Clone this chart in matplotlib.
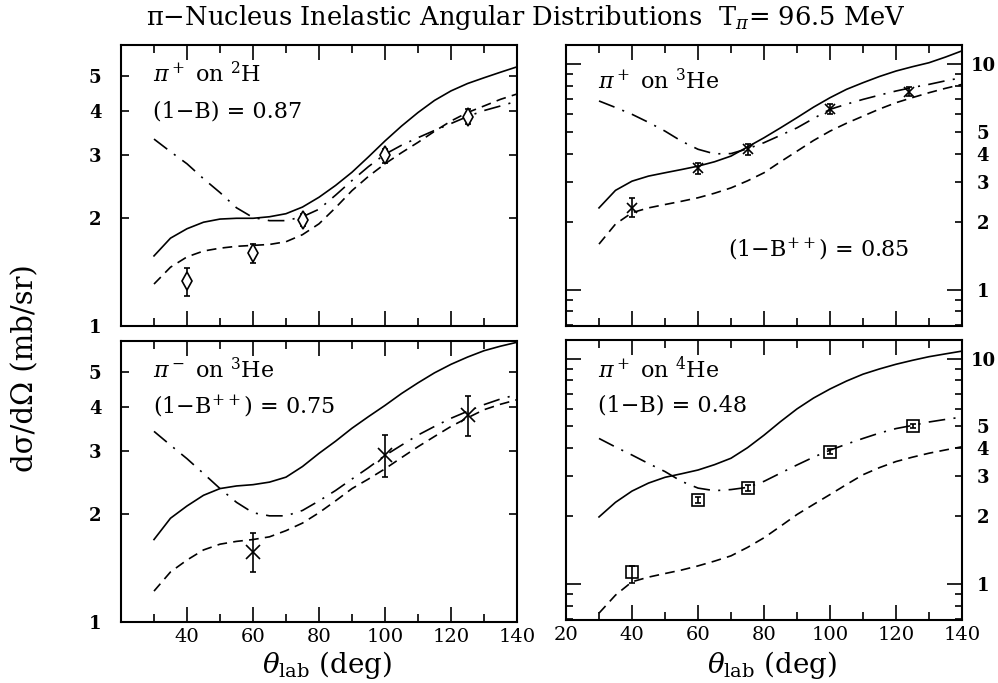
import matplotlib
matplotlib.use("Agg")
import matplotlib.pyplot as plt
from matplotlib.ticker import FixedLocator, LogLocator, NullFormatter, FixedFormatter, NullLocator, FuncFormatter

plt.rcParams['font.family'] = ['DejaVu Serif']
plt.rcParams['mathtext.fontset'] = 'dejavuserif'
plt.rcParams['lines.scale_dashes'] = False

# ---------------- data ----------------
theta = [30, 35, 40, 45, 50, 55, 60, 65, 70, 75, 80, 85, 90, 95, 100,
         105, 110, 115, 120, 125, 130, 135, 140]

# pi+ on 2H
h2_solid = [1.57, 1.76, 1.87, 1.95, 1.99, 2.00, 2.00, 2.02, 2.06, 2.15, 2.29, 2.47, 2.69,
            2.97, 3.29, 3.62, 3.95, 4.27, 4.54, 4.76, 4.94, 5.12, 5.30]
h2_dashed = [1.31, 1.46, 1.56, 1.62, 1.65, 1.67, 1.68, 1.69, 1.72, 1.80, 1.93, 2.14, 2.39,
             2.62, 2.84, 3.05, 3.26, 3.50, 3.74, 3.95, 4.12, 4.30, 4.45]
h2_dashdot = [3.33, 3.07, 2.84, 2.58, 2.36, 2.14, 2.01, 1.97, 1.97, 2.02, 2.12, 2.32, 2.55,
              2.79, 3.02, 3.20, 3.36, 3.52, 3.68, 3.85, 4.00, 4.12, 4.25]
h2_x = [40, 60, 75, 100, 125]
h2_y = [1.335, 1.60, 1.98, 3.00, 3.84]
h2_lo = [1.21, 1.50, 1.90, 2.86, 3.66]
h2_hi = [1.45, 1.69, 2.06, 3.12, 4.04]

# pi+ on 3He
he3p_solid = [2.30, 2.75, 3.02, 3.18, 3.29, 3.40, 3.52, 3.68, 3.90, 4.28, 4.70, 5.20, 5.77,
              6.42, 7.07, 7.70, 8.24, 8.78, 9.28, 9.70, 10.1, 10.7, 11.4]
he3p_dashed = [1.59, 1.95, 2.19, 2.30, 2.38, 2.46, 2.55, 2.67, 2.82, 3.03, 3.29, 3.68, 4.10,
               4.57, 5.03, 5.45, 5.86, 6.30, 6.72, 7.08, 7.44, 7.78, 8.10]
he3p_dashdot = [6.84, 6.40, 5.97, 5.50, 5.03, 4.54, 4.18, 3.99, 4.00, 4.20, 4.47, 4.82, 5.20,
                5.72, 6.28, 6.62, 6.95, 7.26, 7.57, 7.85, 8.10, 8.40, 8.67]
he3p_x = [40, 60, 75, 100, 124]
he3p_y = [2.30, 3.44, 4.18, 6.28, 7.51]
he3p_lo = [2.09, 3.25, 3.94, 5.97, 7.19]
he3p_hi = [2.55, 3.64, 4.39, 6.65, 7.88]

# pi- on 3He
he3m_solid = [1.70, 1.95, 2.11, 2.26, 2.36, 2.40, 2.42, 2.46, 2.54, 2.72, 2.96, 3.20, 3.48,
              3.75, 4.03, 4.35, 4.66, 4.97, 5.25, 5.50, 5.73, 5.90, 6.05]
he3m_dashed = [1.22, 1.38, 1.49, 1.59, 1.65, 1.68, 1.70, 1.73, 1.80, 1.89, 2.02, 2.18, 2.36,
               2.51, 2.68, 2.88, 3.09, 3.30, 3.52, 3.72, 3.92, 4.06, 4.18]
he3m_dashdot = [3.41, 3.12, 2.86, 2.60, 2.36, 2.16, 2.02, 1.98, 1.98, 2.05, 2.18, 2.33, 2.51,
                2.70, 2.92, 3.12, 3.33, 3.52, 3.71, 3.88, 4.05, 4.20, 4.32]
he3m_x = [60, 100, 125]
he3m_y = [1.57, 2.92, 3.79]
he3m_lo = [1.38, 2.54, 3.30]
he3m_hi = [1.77, 3.33, 4.29]

# pi+ on 4He
he4_solid = [1.98, 2.30, 2.58, 2.80, 2.97, 3.08, 3.20, 3.38, 3.61, 4.02, 4.57, 5.25, 5.98,
             6.68, 7.33, 7.95, 8.53, 9.00, 9.44, 9.83, 10.2, 10.5, 10.8]
he4_dashed = [0.74, 0.89, 1.02, 1.07, 1.11, 1.15, 1.20, 1.26, 1.33, 1.45, 1.60, 1.80, 2.03,
              2.25, 2.49, 2.76, 3.05, 3.28, 3.49, 3.65, 3.80, 3.93, 4.06]
he4_dashdot = [4.42, 4.05, 3.73, 3.42, 3.15, 2.85, 2.66, 2.59, 2.62, 2.68, 2.85, 3.10, 3.37,
               3.65, 3.92, 4.17, 4.42, 4.67, 4.89, 5.05, 5.23, 5.37, 5.50]
he4_x = [40, 60, 75, 100, 125]
he4_y = [1.13, 2.36, 2.66, 3.86, 5.02]
he4_lo = [1.01, 2.29, 2.58, 3.76, 4.90]
he4_hi = [1.20, 2.44, 2.74, 3.96, 5.14]

label_lines = ['$\\pi^+$ on $^2$H', '$\\pi^+$ on $^3$He', '$\\pi^-$ on $^3$He', '$\\pi^+$ on $^4$He']
label_factors = ['(1\u2212B) = 0.87', '(1\u2212B$^{++}$) = 0.85', '(1\u2212B$^{++}$) = 0.75', '(1\u2212B) = 0.48']
x_ticks = [20, 40, 60, 80, 100, 120, 140]
left_yticks = [1, 2, 3, 4, 5]
right_major = [1, 10]
right_minor_labeled = [2, 3, 4, 5]

# ---------------- figure ----------------
fig = plt.figure(figsize=(9.98, 6.83), dpi=100)
W, H = 998, 683

def pix_axes(x0, y0, x1, y1):
    return fig.add_axes([x0 / W, 1 - y1 / H, (x1 - x0) / W, (y1 - y0) / H])

ax_tl = pix_axes(121, 45, 517, 326)
ax_tr = pix_axes(566, 45, 962, 326)
ax_bl = pix_axes(121, 341, 517, 622)
ax_br = pix_axes(566, 340, 962, 620)

DASH = (0, (7, 4.5))
DASHDOT = (0, (12, 6, 1.5, 6))
LW = 1.2

def draw(ax, solid, dashed, dashdot, px, py, lo, hi, marker, ms, mfc):
    ax.plot(theta, solid, color='black', lw=LW, ls='-')
    ax.plot(theta, dashed, color='black', lw=LW, ls=DASH)
    ax.plot(theta, dashdot, color='black', lw=LW, ls=DASHDOT)
    yerr = [[y - l for y, l in zip(py, lo)], [h - y for y, h in zip(py, hi)]]
    ax.errorbar(px, py, yerr=yerr, fmt=marker, ms=ms, mfc=mfc, mec='black',
                mew=1.2, ecolor='black', elinewidth=1.2, capsize=2.5, capthick=1.2,
                color='black')

draw(ax_tl, h2_solid, h2_dashed, h2_dashdot, h2_x, h2_y, h2_lo, h2_hi, 'd', 9, 'white')
draw(ax_tr, he3p_solid, he3p_dashed, he3p_dashdot, he3p_x, he3p_y, he3p_lo, he3p_hi, 'x', 7, 'none')
draw(ax_bl, he3m_solid, he3m_dashed, he3m_dashdot, he3m_x, he3m_y, he3m_lo, he3m_hi, 'x', 10, 'none')
draw(ax_br, he4_solid, he4_dashed, he4_dashdot, he4_x, he4_y, he4_lo, he4_hi, 's', 8, 'none')

for ax in (ax_tl, ax_tr, ax_bl, ax_br):
    ax.set_yscale('log')
    ax.set_xlim(20, 140)
    ax.xaxis.set_major_locator(FixedLocator(x_ticks))
    ax.xaxis.set_minor_locator(FixedLocator(list(range(30, 140, 20))))
    ax.tick_params(axis='x', which='major', direction='in', length=11, width=1.2,
                   top=True, bottom=True, labelsize=14, pad=4)
    ax.tick_params(axis='x', which='minor', direction='in', length=6, width=1.2,
                   top=True, bottom=True)
    for s in ax.spines.values():
        s.set_linewidth(1.5)

for ax in (ax_tl, ax_bl):
    ax.set_ylim(1, 6.1)
    ax.yaxis.set_major_locator(FixedLocator(left_yticks))
    ax.yaxis.set_minor_locator(NullLocator())
    ax.yaxis.set_major_formatter(FixedFormatter([str(v) for v in left_yticks]))
    ax.yaxis.set_minor_formatter(NullFormatter())
    ax.tick_params(axis='y', which='major', direction='in', length=6, width=1.2,
                   left=True, right=True, labelleft=True, labelright=False,
                   labelsize=13, pad=14)
    for t in ax.get_yticklabels():
        t.set_fontweight('bold')

def minor_fmt(v, p):
    r = round(v)
    if r in right_minor_labeled and abs(v - r) < 1e-6:
        return '%d' % r
    return ''

for ax in (ax_tr, ax_br):
    ax.set_ylim(0.69, 12.1)
    ax.yaxis.set_major_locator(FixedLocator(right_major))
    ax.yaxis.set_major_formatter(FixedFormatter([str(v) for v in right_major]))
    ax.yaxis.set_minor_locator(LogLocator(base=10, subs=[2, 3, 4, 5, 6, 7, 8, 9]))
    ax.yaxis.set_minor_formatter(FuncFormatter(minor_fmt))
    ax.tick_params(axis='y', which='major', direction='in', length=11, width=1.2,
                   left=True, right=True, labelleft=False, labelright=True,
                   labelsize=13, pad=15)
    ax.tick_params(axis='y', which='minor', direction='in', length=5, width=1.2,
                   left=True, right=True, labelleft=False, labelright=True,
                   labelsize=13, pad=15)
    for t in ax.get_yticklabels(which='both'):
        t.set_fontweight('bold')
        t.set_horizontalalignment('center')

for ax in (ax_tl, ax_tr):
    ax.tick_params(axis='x', which='both', labelbottom=False)

ax_bl.xaxis.set_major_formatter(FixedFormatter(['', '40', '60', '80', '100', '120', '140']))
ax_br.xaxis.set_major_formatter(FixedFormatter([str(v) for v in x_ticks]))

# panel texts
FS = 16
for ax, l1, l2 in ((ax_tl, label_lines[0], label_factors[0]),
                   (ax_bl, label_lines[2], label_factors[2]),
                   (ax_br, label_lines[3], label_factors[3])):
    ax.text(0.08, 0.895, l1, transform=ax.transAxes, fontsize=FS, va='center', ha='left')
    ax.text(0.08, 0.765, l2, transform=ax.transAxes, fontsize=FS, va='center', ha='left')
ax_tr.text(0.08, 0.87, label_lines[1], transform=ax_tr.transAxes, fontsize=FS, va='center', ha='left')
ax_tr.text(0.41, 0.27, label_factors[1], transform=ax_tr.transAxes, fontsize=FS, va='center', ha='left')

fig.text(526 / W, 1 - 18 / H, '\u03c0\u2212Nucleus Inelastic Angular Distributions  T$_\\pi$= 96.5 MeV',
         ha='center', va='center', fontsize=18.5)
fig.text(25 / W, 1 - 368 / H, 'd\u03c3/d\u03a9 (mb/sr)', rotation=90, ha='center', va='center', fontsize=21)
fig.text(327 / W, 2 / H, '$\\theta_{\\rm lab}$ (deg)', ha='center', va='bottom', fontsize=20)
fig.text(772 / W, 2 / H, '$\\theta_{\\rm lab}$ (deg)', ha='center', va='bottom', fontsize=20)

fig.savefig('out.png', dpi=100, facecolor='white')
